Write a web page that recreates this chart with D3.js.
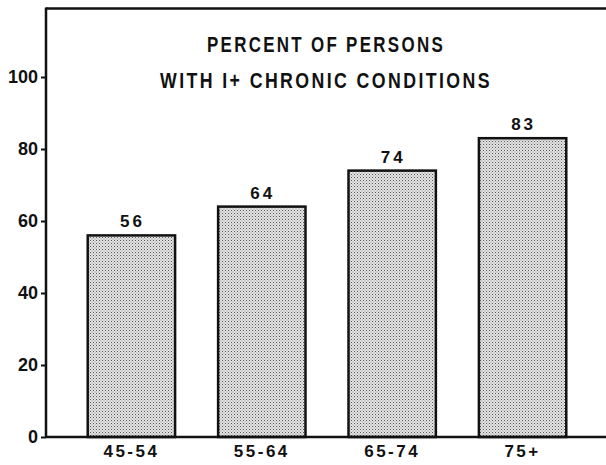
<!DOCTYPE html>
<html>
<head>
<meta charset="utf-8">
<script src="https://cdn.jsdelivr.net/npm/d3@7"></script>
<style>
  body { margin: 0; background: #fff; }
  text { font-family: "Liberation Sans", Arial, sans-serif; font-weight: bold; fill: #111; }
</style>
</head>
<body>
<svg id="chart" width="606" height="465"></svg>
<script>
// data
var ageGroups = ["45-54", "55-64", "65-74", "75+"];
var percents = [56, 64, 74, 83];
var yTicks = [0, 20, 40, 60, 80, 100];
var titleLines = ["PERCENT OF PERSONS", "WITH I+ CHRONIC CONDITIONS"];

var svg = d3.select("#chart");
var axisX = 46;

var x = d3.scaleBand()
  .domain(ageGroups)
  .range([axisX, 608])
  .paddingInner(0.33)
  .paddingOuter(0.32);

var y = d3.scaleLinear()
  .domain([0, 100])
  .range([437, 77]);

// stipple fill
var defs = svg.append("defs");
var pat = defs.append("pattern")
  .attr("id", "dots")
  .attr("patternUnits", "userSpaceOnUse")
  .attr("width", 3).attr("height", 3);
pat.append("rect").attr("width", 3).attr("height", 3).attr("fill", "#e4e4e4");
pat.append("rect").attr("x", 0).attr("y", 0).attr("width", 1).attr("height", 1).attr("fill", "#555");
pat.append("rect").attr("x", 1.5).attr("y", 1.5).attr("width", 1).attr("height", 1).attr("fill", "#888");

// top frame line
svg.append("line")
  .attr("x1", axisX).attr("x2", 606)
  .attr("y1", y(119)).attr("y2", y(119))
  .attr("stroke", "#111").attr("stroke-width", 2.5);

// bars
svg.selectAll("rect.bar")
  .data(percents)
  .enter()
  .append("rect")
  .attr("class", "bar")
  .attr("x", function(d, i) { return x(ageGroups[i]); })
  .attr("width", x.bandwidth())
  .attr("y", function(d) { return y(d); })
  .attr("height", function(d) { return y(0) - y(d); })
  .attr("fill", "url(#dots)")
  .attr("stroke", "#111")
  .attr("stroke-width", 2.5);

// value labels
svg.selectAll("text.val")
  .data(percents)
  .enter()
  .append("text")
  .attr("class", "val")
  .attr("x", function(d, i) { return x(ageGroups[i]) + x.bandwidth() / 2 + 1; })
  .attr("y", function(d) { return y(d) - 8; })
  .attr("text-anchor", "middle")
  .attr("font-size", 17)
  .attr("letter-spacing", 3)
  .text(function(d) { return d; });

// y axis
var yAxis = d3.axisLeft(y)
  .tickValues(yTicks)
  .tickSize(5)
  .tickPadding(3)
  .tickFormat(d3.format("d"));
var gy = svg.append("g")
  .attr("transform", "translate(" + axisX + ",0)")
  .call(yAxis);
gy.select(".domain").remove();
gy.selectAll(".tick line").attr("stroke", "#111").attr("stroke-width", 2);
gy.selectAll(".tick text")
  .attr("font-size", 18)
  .attr("font-family", "Liberation Sans, Arial, sans-serif")
  .attr("font-weight", "bold")
  .attr("fill", "#111");
gy.append("line")
  .attr("x1", 0).attr("x2", 0)
  .attr("y1", y(119) - 1).attr("y2", y(0) + 1)
  .attr("stroke", "#111").attr("stroke-width", 2.5);

// x axis baseline + labels
var xAxis = d3.axisBottom(x).tickSize(0).tickPadding(8);
var gx = svg.append("g")
  .attr("transform", "translate(0," + y(0) + ")")
  .call(xAxis);
gx.select(".domain").remove();
gx.append("line")
  .attr("x1", axisX).attr("x2", 606)
  .attr("y1", 0).attr("y2", 0)
  .attr("stroke", "#111").attr("stroke-width", 2.5);
gx.selectAll(".tick text")
  .attr("font-size", 17)
  .attr("font-family", "Liberation Sans, Arial, sans-serif")
  .attr("font-weight", "bold")
  .attr("letter-spacing", 2.5)
  .attr("fill", "#111");

// title
var titleWidths = [238, 332];
svg.selectAll("text.title")
  .data(titleLines)
  .enter()
  .append("text")
  .attr("class", "title")
  .attr("x", function(d, i) { return 326 - titleWidths[i] / 2; })
  .attr("y", function(d, i) { return 52 + i * 36; })
  .attr("font-size", 22)
  .attr("letter-spacing", 3)
  .attr("textLength", function(d, i) { return titleWidths[i]; })
  .attr("lengthAdjust", "spacingAndGlyphs")
  .text(function(d) { return d; });
</script>
</body>
</html>
